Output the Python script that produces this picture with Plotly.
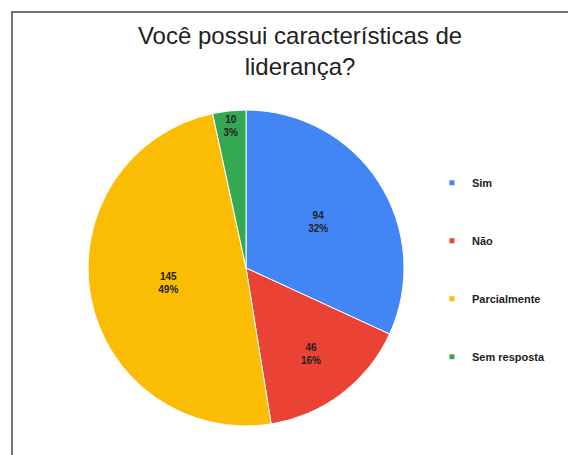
import plotly.graph_objects as go

categorias = ['Sim', 'Não', 'Parcialmente', 'Sem resposta']
respostas = [94, 46, 145, 10]
cores = ['#4285F4', '#EA4335', '#FBBC04', '#34A853']

titulo = 'Você possui características de<br>liderança?'

fig = go.Figure()
fig.add_trace(go.Pie(labels=categorias, values=respostas, sort=False,
                     direction='clockwise', rotation=0,
                     marker=dict(colors=cores, line=dict(color='white', width=1)),
                     texttemplate='<b>%{value}<br>%{percent:.0%}</b>',
                     textposition='inside', insidetextorientation='horizontal',
                     textfont=dict(size=10, color='#222222', family='Liberation Sans, Arial'),
                     showlegend=False, hoverinfo='label+value+percent',
                     domain=dict(x=[0.1389, 0.6875], y=[0.0813, 0.7758])))

# legenda com marcadores quadrados pequenos, um grupo por item p/ espaçamento
for i, (c, cor) in enumerate(zip(categorias, cores)):
    fig.add_trace(go.Scatter(x=[None], y=[None], mode='markers', name=c,
                             legendgroup=str(i),
                             marker=dict(symbol='square', size=5, color=cor)))

fig.update_xaxes(visible=False)
fig.update_yaxes(visible=False)
fig.update_layout(
    title=dict(text=titulo, x=0.507, xanchor='center', y=0.921, yanchor='top',
               font=dict(size=24, color='#222222', family='Liberation Sans, Arial')),
    legend=dict(x=0.736, y=0.648, xanchor='left', yanchor='top',
                tracegroupgap=39, itemwidth=30,
                font=dict(size=11, color='#222222', family='Liberation Sans, Arial',
                          weight='bold')),
    width=576, height=455, autosize=False,
    margin=dict(l=0, r=0, t=0, b=0),
    paper_bgcolor='white', plot_bgcolor='white',
    shapes=[dict(type='rect', xref='paper', yref='paper',
                 x0=4/576, x1=1.05, y0=-0.05, y1=1-4/455,
                 line=dict(color='#444444', width=1.5))],
)
fig.write_html('out.html')
